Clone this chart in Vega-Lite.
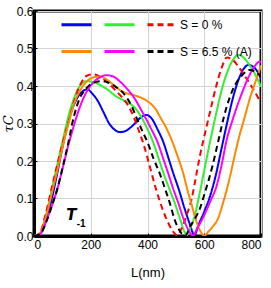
{
  "$schema": "https://vega.github.io/schema/vega-lite/v6.json",
  "width": 227,
  "height": 225,
  "autosize": "none",
  "padding": {"left": 34, "top": 11, "right": 10, "bottom": 52},
  "config": {
    "view": {"stroke": "black", "strokeWidth": 3},
    "font": "Liberation Sans",
    "axis": {"labelFont": "Liberation Sans", "labelFontSize": 12, "labelColor": "black", "labelOverlap": false, "titleFont": "Liberation Sans", "titleFontWeight": "normal", "titleColor": "black", "gridColor": "#d4d4d4", "gridWidth": 1, "domainColor": "black", "domainWidth": 3, "tickColor": "black"}
  },
  "datasets": {
    "curves": [
      {"s":"A1","L":0,"t":0},{"s":"A1","L":20,"t":0.005},{"s":"A1","L":40,"t":0.035},{"s":"A1","L":60,"t":0.09},{"s":"A1","L":80,"t":0.16},{"s":"A1","L":100,"t":0.235},{"s":"A1","L":125,"t":0.315},{"s":"A1","L":150,"t":0.365},{"s":"A1","L":170,"t":0.385},{"s":"A1","L":188,"t":0.391},{"s":"A1","L":205,"t":0.38},{"s":"A1","L":225,"t":0.36},{"s":"A1","L":245,"t":0.33},{"s":"A1","L":265,"t":0.3},{"s":"A1","L":285,"t":0.283},{"s":"A1","L":305,"t":0.277},{"s":"A1","L":325,"t":0.281},{"s":"A1","L":350,"t":0.296},{"s":"A1","L":375,"t":0.315},{"s":"A1","L":395,"t":0.323},{"s":"A1","L":415,"t":0.313},{"s":"A1","L":435,"t":0.285},{"s":"A1","L":456,"t":0.25},{"s":"A1","L":475,"t":0.205},{"s":"A1","L":491,"t":0.167},{"s":"A1","L":510,"t":0.125},{"s":"A1","L":530,"t":0.075},{"s":"A1","L":550,"t":0.03},{"s":"A1","L":565,"t":0.002},{"s":"A1","L":580,"t":0.03},{"s":"A1","L":600,"t":0.065},{"s":"A1","L":620,"t":0.105},{"s":"A1","L":640,"t":0.16},{"s":"A1","L":660,"t":0.23},{"s":"A1","L":680,"t":0.3},{"s":"A1","L":700,"t":0.365},{"s":"A1","L":720,"t":0.415},{"s":"A1","L":740,"t":0.447},{"s":"A1","L":755,"t":0.456},{"s":"A1","L":775,"t":0.45},{"s":"A1","L":790,"t":0.435},{"s":"A1","L":800,"t":0.42},
      {"s":"A2","L":0,"t":0},{"s":"A2","L":20,"t":0.007},{"s":"A2","L":40,"t":0.05},{"s":"A2","L":60,"t":0.115},{"s":"A2","L":82,"t":0.19},{"s":"A2","L":100,"t":0.25},{"s":"A2","L":120,"t":0.315},{"s":"A2","L":140,"t":0.365},{"s":"A2","L":160,"t":0.398},{"s":"A2","L":185,"t":0.413},{"s":"A2","L":210,"t":0.41},{"s":"A2","L":235,"t":0.402},{"s":"A2","L":260,"t":0.39},{"s":"A2","L":290,"t":0.372},{"s":"A2","L":315,"t":0.362},{"s":"A2","L":340,"t":0.352},{"s":"A2","L":362,"t":0.336},{"s":"A2","L":380,"t":0.315},{"s":"A2","L":400,"t":0.285},{"s":"A2","L":420,"t":0.25},{"s":"A2","L":440,"t":0.205},{"s":"A2","L":460,"t":0.16},{"s":"A2","L":480,"t":0.12},{"s":"A2","L":500,"t":0.08},{"s":"A2","L":515,"t":0.045},{"s":"A2","L":530,"t":0.012},{"s":"A2","L":538,"t":0.002},{"s":"A2","L":550,"t":0.02},{"s":"A2","L":567,"t":0.056},{"s":"A2","L":580,"t":0.1},{"s":"A2","L":600,"t":0.175},{"s":"A2","L":620,"t":0.25},{"s":"A2","L":640,"t":0.32},{"s":"A2","L":660,"t":0.385},{"s":"A2","L":680,"t":0.435},{"s":"A2","L":700,"t":0.468},{"s":"A2","L":720,"t":0.483},{"s":"A2","L":740,"t":0.475},{"s":"A2","L":760,"t":0.455},{"s":"A2","L":780,"t":0.43},{"s":"A2","L":800,"t":0.398},
      {"s":"S = 0 %","L":0,"t":0},{"s":"S = 0 %","L":20,"t":0.007},{"s":"S = 0 %","L":40,"t":0.055},{"s":"S = 0 %","L":60,"t":0.12},{"s":"S = 0 %","L":82,"t":0.19},{"s":"S = 0 %","L":100,"t":0.245},{"s":"S = 0 %","L":120,"t":0.3},{"s":"S = 0 %","L":140,"t":0.355},{"s":"S = 0 %","L":164,"t":0.405},{"s":"S = 0 %","L":188,"t":0.428},{"s":"S = 0 %","L":210,"t":0.431},{"s":"S = 0 %","L":235,"t":0.424},{"s":"S = 0 %","L":260,"t":0.41},{"s":"S = 0 %","L":285,"t":0.39},{"s":"S = 0 %","L":310,"t":0.37},{"s":"S = 0 %","L":330,"t":0.35},{"s":"S = 0 %","L":350,"t":0.32},{"s":"S = 0 %","L":370,"t":0.28},{"s":"S = 0 %","L":390,"t":0.235},{"s":"S = 0 %","L":410,"t":0.18},{"s":"S = 0 %","L":430,"t":0.125},{"s":"S = 0 %","L":450,"t":0.078},{"s":"S = 0 %","L":470,"t":0.04},{"s":"S = 0 %","L":490,"t":0.012},{"s":"S = 0 %","L":505,"t":0.001},{"s":"S = 0 %","L":520,"t":0.02},{"s":"S = 0 %","L":540,"t":0.06},{"s":"S = 0 %","L":556,"t":0.1},{"s":"S = 0 %","L":570,"t":0.155},{"s":"S = 0 %","L":585,"t":0.215},{"s":"S = 0 %","L":600,"t":0.265},{"s":"S = 0 %","L":620,"t":0.33},{"s":"S = 0 %","L":644,"t":0.405},{"s":"S = 0 %","L":662,"t":0.45},{"s":"S = 0 %","L":680,"t":0.476},{"s":"S = 0 %","L":700,"t":0.47},{"s":"S = 0 %","L":720,"t":0.452},{"s":"S = 0 %","L":740,"t":0.43},{"s":"S = 0 %","L":770,"t":0.395},{"s":"S = 0 %","L":800,"t":0.355},
      {"s":"B1","L":0,"t":0},{"s":"B1","L":20,"t":0.006},{"s":"B1","L":40,"t":0.045},{"s":"B1","L":60,"t":0.105},{"s":"B1","L":82,"t":0.175},{"s":"B1","L":100,"t":0.235},{"s":"B1","L":120,"t":0.295},{"s":"B1","L":140,"t":0.35},{"s":"B1","L":164,"t":0.39},{"s":"B1","L":190,"t":0.415},{"s":"B1","L":215,"t":0.424},{"s":"B1","L":235,"t":0.425},{"s":"B1","L":260,"t":0.415},{"s":"B1","L":285,"t":0.4},{"s":"B1","L":303,"t":0.389},{"s":"B1","L":325,"t":0.381},{"s":"B1","L":350,"t":0.376},{"s":"B1","L":380,"t":0.368},{"s":"B1","L":409,"t":0.354},{"s":"B1","L":430,"t":0.337},{"s":"B1","L":444,"t":0.318},{"s":"B1","L":465,"t":0.29},{"s":"B1","L":485,"t":0.256},{"s":"B1","L":505,"t":0.215},{"s":"B1","L":526,"t":0.167},{"s":"B1","L":540,"t":0.125},{"s":"B1","L":555,"t":0.085},{"s":"B1","L":570,"t":0.045},{"s":"B1","L":585,"t":0.015},{"s":"B1","L":600,"t":0.001},{"s":"B1","L":615,"t":0.012},{"s":"B1","L":630,"t":0.025},{"s":"B1","L":649,"t":0.047},{"s":"B1","L":665,"t":0.085},{"s":"B1","L":685,"t":0.14},{"s":"B1","L":703,"t":0.2},{"s":"B1","L":720,"t":0.256},{"s":"B1","L":740,"t":0.31},{"s":"B1","L":760,"t":0.365},{"s":"B1","L":780,"t":0.41},{"s":"B1","L":800,"t":0.455},
      {"s":"B2","L":0,"t":0},{"s":"B2","L":20,"t":0.004},{"s":"B2","L":47,"t":0.048},{"s":"B2","L":65,"t":0.085},{"s":"B2","L":82,"t":0.125},{"s":"B2","L":100,"t":0.178},{"s":"B2","L":117,"t":0.23},{"s":"B2","L":135,"t":0.28},{"s":"B2","L":153,"t":0.325},{"s":"B2","L":170,"t":0.36},{"s":"B2","L":188,"t":0.388},{"s":"B2","L":210,"t":0.41},{"s":"B2","L":230,"t":0.422},{"s":"B2","L":253,"t":0.429},{"s":"B2","L":280,"t":0.425},{"s":"B2","L":303,"t":0.412},{"s":"B2","L":325,"t":0.395},{"s":"B2","L":350,"t":0.372},{"s":"B2","L":380,"t":0.333},{"s":"B2","L":410,"t":0.29},{"s":"B2","L":438,"t":0.245},{"s":"B2","L":456,"t":0.205},{"s":"B2","L":473,"t":0.167},{"s":"B2","L":490,"t":0.127},{"s":"B2","L":509,"t":0.087},{"s":"B2","L":525,"t":0.05},{"s":"B2","L":545,"t":0.015},{"s":"B2","L":560,"t":0.001},{"s":"B2","L":575,"t":0.02},{"s":"B2","L":595,"t":0.048},{"s":"B2","L":620,"t":0.09},{"s":"B2","L":644,"t":0.135},{"s":"B2","L":660,"t":0.185},{"s":"B2","L":679,"t":0.256},{"s":"B2","L":700,"t":0.31},{"s":"B2","L":720,"t":0.355},{"s":"B2","L":740,"t":0.395},{"s":"B2","L":760,"t":0.43},{"s":"B2","L":780,"t":0.455},{"s":"B2","L":795,"t":0.465},{"s":"B2","L":800,"t":0.464},
      {"s":"S = 6.5 % (A)","L":0,"t":0},{"s":"S = 6.5 % (A)","L":20,"t":0.004},{"s":"S = 6.5 % (A)","L":47,"t":0.045},{"s":"S = 6.5 % (A)","L":65,"t":0.085},{"s":"S = 6.5 % (A)","L":82,"t":0.125},{"s":"S = 6.5 % (A)","L":100,"t":0.18},{"s":"S = 6.5 % (A)","L":117,"t":0.235},{"s":"S = 6.5 % (A)","L":141,"t":0.32},{"s":"S = 6.5 % (A)","L":160,"t":0.365},{"s":"S = 6.5 % (A)","L":180,"t":0.39},{"s":"S = 6.5 % (A)","L":200,"t":0.405},{"s":"S = 6.5 % (A)","L":220,"t":0.411},{"s":"S = 6.5 % (A)","L":241,"t":0.413},{"s":"S = 6.5 % (A)","L":265,"t":0.408},{"s":"S = 6.5 % (A)","L":291,"t":0.396},{"s":"S = 6.5 % (A)","L":310,"t":0.385},{"s":"S = 6.5 % (A)","L":327,"t":0.369},{"s":"S = 6.5 % (A)","L":345,"t":0.345},{"s":"S = 6.5 % (A)","L":362,"t":0.314},{"s":"S = 6.5 % (A)","L":380,"t":0.283},{"s":"S = 6.5 % (A)","L":400,"t":0.25},{"s":"S = 6.5 % (A)","L":422,"t":0.205},{"s":"S = 6.5 % (A)","L":444,"t":0.165},{"s":"S = 6.5 % (A)","L":460,"t":0.13},{"s":"S = 6.5 % (A)","L":479,"t":0.087},{"s":"S = 6.5 % (A)","L":495,"t":0.045},{"s":"S = 6.5 % (A)","L":515,"t":0.012},{"s":"S = 6.5 % (A)","L":533,"t":0.001},{"s":"S = 6.5 % (A)","L":550,"t":0.025},{"s":"S = 6.5 % (A)","L":570,"t":0.05},{"s":"S = 6.5 % (A)","L":585,"t":0.074},{"s":"S = 6.5 % (A)","L":600,"t":0.11},{"s":"S = 6.5 % (A)","L":614,"t":0.145},{"s":"S = 6.5 % (A)","L":630,"t":0.19},{"s":"S = 6.5 % (A)","L":650,"t":0.255},{"s":"S = 6.5 % (A)","L":670,"t":0.32},{"s":"S = 6.5 % (A)","L":690,"t":0.37},{"s":"S = 6.5 % (A)","L":710,"t":0.405},{"s":"S = 6.5 % (A)","L":735,"t":0.43},{"s":"S = 6.5 % (A)","L":760,"t":0.443},{"s":"S = 6.5 % (A)","L":780,"t":0.438},{"s":"S = 6.5 % (A)","L":800,"t":0.425}
    ]
  },
  "layer": [
    {
      "data": {"name": "curves"},
      "mark": {"type": "line", "strokeWidth": 2, "interpolate": "monotone", "clip": true},
      "encoding": {
        "x": {"field": "L", "type": "quantitative", "scale": {"domain": [0, 800], "nice": false},
              "axis": {"title": "L(nm)", "titleFontSize": 13, "titlePadding": 16, "values": [0, 200, 400, 600, 800], "tickCount": 10, "grid": true, "tickSize": -3, "labelPadding": 6}},
        "y": {"field": "t", "type": "quantitative", "scale": {"domain": [0, 0.6], "nice": false},
              "axis": {"title": "τC", "titleFont": "DejaVu Serif", "titleFontStyle": "italic", "titleFontSize": 13, "titlePadding": 1, "values": [0, 0.1, 0.2, 0.3, 0.4, 0.5, 0.6], "tickCount": 10, "format": ".1f", "grid": true, "tickSize": -3, "labelPadding": 4}},
        "color": {"field": "s", "type": "nominal",
                  "scale": {"domain": ["A1", "A2", "S = 0 %", "B1", "B2", "S = 6.5 % (A)"], "range": ["#0000ff", "#33ee33", "#ff0000", "#ff8800", "#ff00ff", "#000000"]},
                  "legend": {"title": null, "orient": "none", "legendX": 26, "legendY": -3, "columns": 3, "direction": "horizontal", "symbolType": "stroke", "symbolSize": 900, "symbolStrokeWidth": 3, "labelOffset": 1, "columnPadding": 0, "rowPadding": 4, "padding": 0, "labelFontSize": 12, "labelFont": "Liberation Sans", "labelColor": "black",
                             "labelExpr": "indexof(datum.label, 'S =') == 0 ? datum.label : ''"}},
        "strokeDash": {"field": "s", "type": "nominal",
                       "scale": {"domain": ["A1", "A2", "S = 0 %", "B1", "B2", "S = 6.5 % (A)"], "range": [[1, 0], [1, 0], [6, 4], [1, 0], [1, 0], [6, 4]]},
                       "legend": {"title": null, "orient": "none", "legendX": 26, "legendY": -3, "columns": 3, "direction": "horizontal", "symbolType": "stroke", "symbolSize": 900, "symbolStrokeWidth": 3, "labelOffset": 1, "columnPadding": 0, "rowPadding": 4, "padding": 0, "labelFontSize": 12, "labelFont": "Liberation Sans", "labelColor": "black",
                                  "labelExpr": "indexof(datum.label, 'S =') == 0 ? datum.label : ''"}},
        "order": {"value": 0}
      }
    },
    {
      "data": {"values": [{}]},
      "mark": {"type": "text", "font": "DejaVu Sans", "fontStyle": "italic", "fontWeight": "bold", "fontSize": 15, "color": "black"},
      "encoding": {"x": {"datum": 132}, "y": {"datum": 0.055}, "text": {"value": "T"}}
    },
    {
      "data": {"values": [{}]},
      "mark": {"type": "text", "font": "Liberation Sans", "fontWeight": "bold", "fontSize": 10, "color": "black"},
      "encoding": {"x": {"datum": 166}, "y": {"datum": 0.033}, "text": {"value": "-1"}}
    }
  ]
}
